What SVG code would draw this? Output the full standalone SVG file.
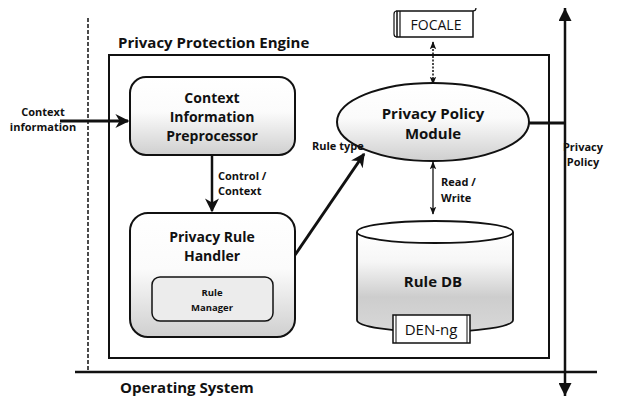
<svg xmlns="http://www.w3.org/2000/svg" width="618" height="401" viewBox="0 0 618 401">
  <style>
    .t { font-family: "Open Sans", "Liberation Sans", sans-serif; fill: #111; }
    .b { font-weight: bold; }
    .line { stroke: #111; fill: none; }
    .box { stroke: #111; stroke-width: 2; }
  </style>
  <defs>
    <linearGradient id="shade" x1="0" y1="0" x2="0" y2="1">
      <stop offset="0" stop-color="#ffffff"/>
      <stop offset="0.45" stop-color="#fbfbfb"/>
      <stop offset="1" stop-color="#cfcfcf"/>
    </linearGradient>
    <linearGradient id="dbshade" x1="0" y1="0" x2="0" y2="1">
      <stop offset="0" stop-color="#ffffff"/>
      <stop offset="0.3" stop-color="#f6f6f6"/>
      <stop offset="0.65" stop-color="#cdcdcd"/>
      <stop offset="1" stop-color="#d8d8d8"/>
    </linearGradient>
    <marker id="bighead" viewBox="0 0 10 10" refX="9" refY="5" markerWidth="14" markerHeight="14" markerUnits="userSpaceOnUse" orient="auto-start-reverse">
      <path d="M0,0 L10,5 L0,10 L3,5 z" fill="#111"/>
    </marker>
    <marker id="small" viewBox="0 0 10 10" refX="9" refY="5" markerWidth="8" markerHeight="8" markerUnits="userSpaceOnUse" orient="auto-start-reverse">
      <path d="M0,1 L10,5 L0,9 L2,5 z" fill="#111"/>
    </marker>
    <marker id="tri" viewBox="0 0 10 10" refX="10" refY="5" markerWidth="13" markerHeight="13" markerUnits="userSpaceOnUse" orient="auto-start-reverse">
      <path d="M0,0 L10,5 L0,10 z" fill="#111"/>
    </marker>
  </defs>

  <rect width="618" height="401" fill="#ffffff"/>

  <!-- host boundary and platform -->
  <g id="boundary">
    <line class="line" x1="88" y1="18" x2="88" y2="372" stroke-width="1.5" stroke-dasharray="4,2"/>
    <line class="line" x1="75" y1="372" x2="597" y2="372" stroke-width="2.5"/>
    <text class="t b" x="120" y="393" font-size="15">Operating System</text>
  </g>

  <!-- engine container -->
  <g id="engine">
    <rect x="109" y="55" width="440" height="303" fill="none" class="box" stroke-width="2.5"/>
    <text class="t b" x="118" y="48" font-size="15">Privacy Protection Engine</text>
  </g>

  <!-- connectors -->
  <g id="connectors">
    <line class="line" x1="60" y1="121" x2="128" y2="121" stroke-width="3" marker-end="url(#bighead)"/>
    <line class="line" x1="212" y1="155" x2="212" y2="211" stroke-width="2.5" marker-end="url(#bighead)"/>
    <line class="line" x1="295" y1="255" x2="364" y2="154" stroke-width="3" marker-end="url(#bighead)"/>
    <line class="line" x1="433" y1="42" x2="433" y2="84" stroke-width="1.5" stroke-dasharray="2,1.5" marker-start="url(#small)" marker-end="url(#small)"/>
    <line class="line" x1="433" y1="162" x2="433" y2="214" stroke-width="1.3" marker-start="url(#small)" marker-end="url(#small)"/>
    <line class="line" x1="529" y1="123" x2="565" y2="123" stroke-width="3"/>
    <line class="line" x1="565" y1="8" x2="565" y2="396" stroke-width="2.5" marker-start="url(#tri)" marker-end="url(#tri)"/>
  </g>

  <!-- context information preprocessor -->
  <g id="preprocessor">
    <rect x="130" y="77" width="165" height="78" rx="16" fill="url(#shade)" class="box"/>
    <text class="t b" x="212" y="103" font-size="14" text-anchor="middle">Context</text>
    <text class="t b" x="212" y="122" font-size="14" text-anchor="middle">Information</text>
    <text class="t b" x="212" y="141" font-size="14" text-anchor="middle">Preprocessor</text>
  </g>

  <!-- privacy rule handler with nested rule manager -->
  <g id="rule-handler">
    <rect x="130" y="213" width="165" height="124" rx="18" fill="url(#shade)" class="box"/>
    <text class="t b" x="212" y="242" font-size="14" text-anchor="middle">Privacy Rule</text>
    <text class="t b" x="212" y="261" font-size="14" text-anchor="middle">Handler</text>
  </g>
  <g id="rule-manager">
    <rect x="152" y="277" width="121" height="44" rx="8" fill="#ececec" stroke="#111" stroke-width="1.5"/>
    <text class="t b" x="212" y="296" font-size="9.5" text-anchor="middle">Rule</text>
    <text class="t b" x="212" y="311" font-size="9.5" text-anchor="middle">Manager</text>
  </g>

  <!-- privacy policy module -->
  <g id="policy-module">
    <ellipse cx="433" cy="122" rx="96" ry="39" fill="url(#shade)" class="box"/>
    <text class="t b" x="433" y="119" font-size="15" text-anchor="middle">Privacy Policy</text>
    <text class="t b" x="433" y="139" font-size="15" text-anchor="middle">Module</text>
  </g>

  <!-- FOCALE scroll -->
  <g id="focale">
    <rect x="397" y="11" width="76" height="26" fill="#ffffff" stroke="#111" stroke-width="1.5"/>
    <path d="M397,11 q-3,0 -3,3 v20 q0,3 3,3 M400,11 v26" class="line" stroke-width="1.2"/>
    <path d="M473,11 q3,0 3,-3" class="line" stroke-width="1.2"/>
    <text class="t" x="436" y="30" font-size="14" text-anchor="middle">FOCALE</text>
  </g>

  <!-- rule database -->
  <g id="rule-db">
    <path d="M357,232 v88 a78,12 0 0 0 156,0 v-88" fill="url(#dbshade)" stroke="#111" stroke-width="1.8"/>
    <ellipse cx="435" cy="232" rx="78" ry="11" fill="#ffffff" stroke="#111" stroke-width="1.8"/>
    <text class="t b" x="433" y="287" font-size="15" text-anchor="middle">Rule DB</text>
  </g>

  <!-- DEN-ng label -->
  <g id="den-ng">
    <rect x="393" y="315" width="77" height="28" fill="#ffffff" stroke="#111" stroke-width="1.5"/>
    <path d="M396,315 v28 M467,315 v28" class="line" stroke-width="1"/>
    <text class="t" x="431" y="335" font-size="15" text-anchor="middle">DEN-ng</text>
  </g>

  <!-- connector labels, drawn last so they sit above the shapes -->
  <g id="labels">
    <text class="t b" x="43" y="116" font-size="11" text-anchor="middle">Context</text>
    <text class="t b" x="43" y="131" font-size="11" text-anchor="middle">information</text>
    <text class="t b" x="218" y="180" font-size="11">Control /</text>
    <text class="t b" x="218" y="195" font-size="11">Context</text>
    <text class="t b" x="312" y="150" font-size="11">Rule type</text>
    <text class="t b" x="441" y="186" font-size="11">Read /</text>
    <text class="t b" x="441" y="202" font-size="11">Write</text>
    <text class="t b" x="583" y="151" font-size="11" text-anchor="middle">Privacy</text>
    <text class="t b" x="583" y="166" font-size="11" text-anchor="middle">Policy</text>
  </g>
</svg>
